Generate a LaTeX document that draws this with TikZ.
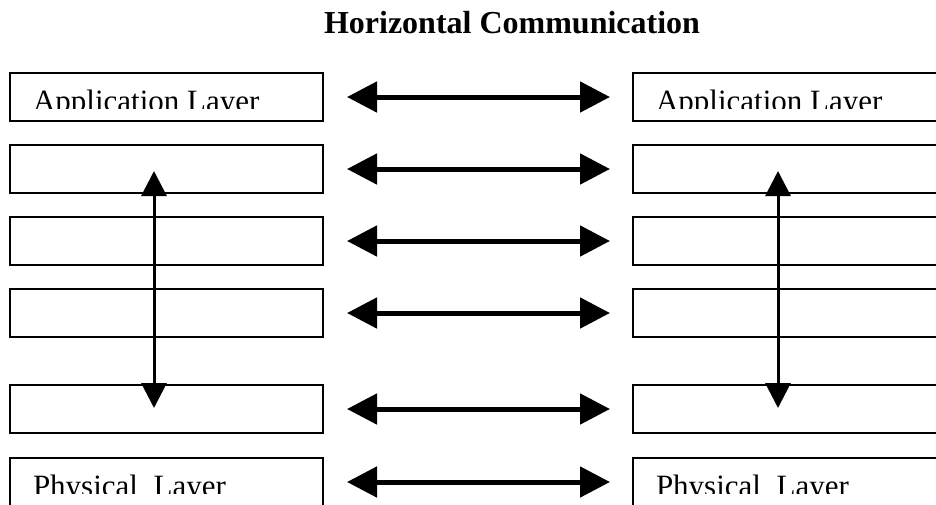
\documentclass[tikz,border=0pt]{standalone}
\usepackage{fontspec}
\setmainfont{Liberation Serif}
\usetikzlibrary{arrows.meta,calc}

\tikzset{
  layer/.style={draw=black, line width=1.5pt, minimum width=313pt, minimum height=48pt,
    inner sep=0pt, outer sep=0pt},
  lbl/.style={inner sep=0pt, outer sep=0pt, anchor=base west,
    font=\fontsize{31}{31}\selectfont},
  title/.style={inner sep=0pt, anchor=base, font=\fontsize{32}{32}\selectfont\bfseries},
  harrow/.style={line width=5pt, {Triangle[length=30pt,width=30pt]}-{Triangle[length=30pt,width=30pt]}},
  varrow/.style={line width=3pt, {Triangle[length=25pt,width=25pt]}-{Triangle[length=25pt,width=25pt]}}
}

% clipped label inside a layer box
\newcommand{\layerlabel}[3]{%
  \begin{scope}
    \clip (#1.north west) rectangle ($(#1.north west)+(313,35)$);
    \node[lbl] (#2) at ($(#1.north west)+(23,38.5)$) {#3};
  \end{scope}}

\begin{document}
\begin{tikzpicture}[x=1pt,y=-1pt]
  \fill[white] (0,0) rectangle (936,504);
  \useasboundingbox (0,0) rectangle (936,504);

  \node[title] (title) at (512,33) {Horizontal Communication};

  % left stack
  \node[layer] (L1) at (166.5,97) {};
  \node[layer] (L2) at (166.5,169) {};
  \node[layer] (L3) at (166.5,241) {};
  \node[layer] (L4) at (166.5,313) {};
  \node[layer] (L5) at (166.5,409) {};
  \node[layer] (L6) at (166.5,482) {};

  % right stack
  \node[layer] (R1) at (789.5,97) {};
  \node[layer] (R2) at (789.5,169) {};
  \node[layer] (R3) at (789.5,241) {};
  \node[layer] (R4) at (789.5,313) {};
  \node[layer] (R5) at (789.5,409) {};
  \node[layer] (R6) at (789.5,482) {};

  \layerlabel{L1}{L1t}{Application Layer}
  \layerlabel{R1}{R1t}{Application Layer}
  \layerlabel{L6}{L6t}{Physical\ \ Layer}
  \layerlabel{R6}{R6t}{Physical\ \ Layer}

  % peer-to-peer arrows
  \foreach \i in {1,...,6}{
    \draw[harrow, shorten <=24pt, shorten >=23pt] (L\i.east) -- (R\i.west);
  }

  % vertical arrows through each stack
  \coordinate (vLtop) at (154,171);
  \coordinate (vLbot) at (154,408);
  \coordinate (vRtop) at (778,171);
  \coordinate (vRbot) at (778,408);
  \draw[varrow] (vLtop) -- (vLbot);
  \draw[varrow] (vRtop) -- (vRbot);
\end{tikzpicture}
\end{document}
